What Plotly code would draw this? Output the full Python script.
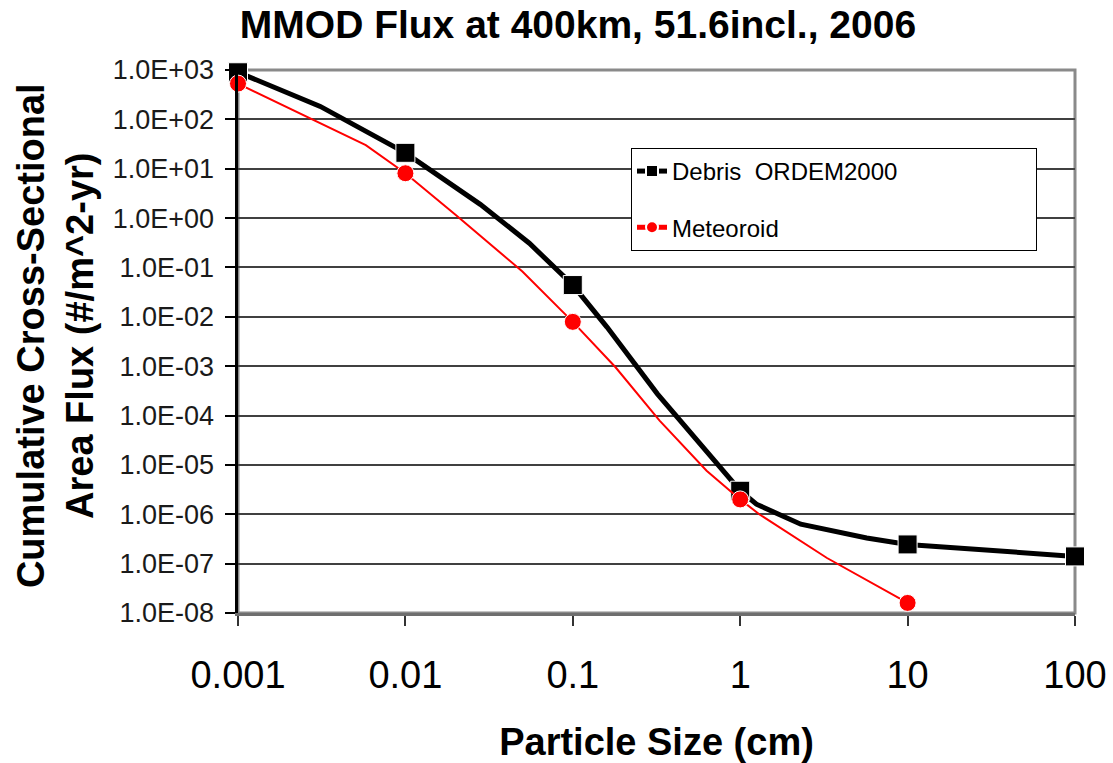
import numpy as np
import plotly.graph_objects as go

# ---- data ----
debris_size = [0.001, 0.0031, 0.01, 0.028, 0.055, 0.1, 0.16, 0.24, 0.32, 1, 1.25, 2.3, 5.7, 10, 18, 100]
debris_flux = [900, 183, 21, 1.9, 0.31, 0.044, 0.0062, 0.00095, 0.000275, 3.0e-6, 1.6e-6, 6.3e-7, 3.3e-7, 2.45e-7, 2.1e-7, 1.4e-7]

meteoroid_size = [0.001, 0.0058, 0.01, 0.02, 0.05, 0.1, 0.18, 0.33, 0.63, 1, 1.3, 3.3, 10]
meteoroid_flux = [530, 30, 8.1, 1.15, 0.083, 0.0079, 0.00095, 7.9e-5, 7.6e-6, 2.0e-6, 1.0e-6, 1.3e-7, 1.6e-8]

x_tick_vals = [0.001, 0.01, 0.1, 1, 10, 100]
x_tick_text = ["0.001", "0.01", "0.1", "1", "10", "100"]
y_tick_vals = [1e3, 1e2, 1e1, 1e0, 1e-1, 1e-2, 1e-3, 1e-4, 1e-5, 1e-6, 1e-7, 1e-8]
y_tick_text = ["1.0E+03", "1.0E+02", "1.0E+01", "1.0E+00", "1.0E-01", "1.0E-02",
               "1.0E-03", "1.0E-04", "1.0E-05", "1.0E-06", "1.0E-07", "1.0E-08"]

FONT = "Liberation Sans, Arial, sans-serif"
LEGEND_PAD = "\u00a0" * 20


def decade_sizes(xs, size):
    lx = np.log10(np.array(xs, dtype=float))
    return [size if abs(v - round(v)) < 1e-6 else 0 for v in lx]


fig = go.Figure()
fig.add_trace(go.Scatter(
    x=debris_size, y=debris_flux, name="Debris  ORDEM2000" + LEGEND_PAD,
    mode="lines+markers", legendgroup="d",
    line=dict(color="black", width=5),
    marker=dict(symbol="square", color="black", opacity=1,
                size=decade_sizes(debris_size, 19)),
    cliponaxis=False,
))
fig.add_trace(go.Scatter(
    x=meteoroid_size, y=meteoroid_flux, name="Meteoroid",
    mode="lines+markers", legendgroup="m",
    line=dict(color="#ff0000", width=2),
    marker=dict(symbol="circle", color="#ff0000", opacity=1,
                size=decade_sizes(meteoroid_size, 17)),
    cliponaxis=False,
))
# empty trace so the label-only overlay axis is instantiated
fig.add_trace(go.Scatter(x=[], y=[], yaxis="y2", showlegend=False, hoverinfo="skip"))

# border (top/right) of the plot area
fig.add_shape(type="rect", xref="x domain", yref="y domain", x0=0, x1=1, y0=0, y1=1,
              line=dict(color="#8a8a8a", width=3), layer="below")

# plot area: x 238..1075 px, paper (margins) starts at 214 px
PAPER_L = 214
PAPER_W = 1113 - PAPER_L - 38
dom0 = (238 - PAPER_L) / PAPER_W

fig.update_layout(
    width=1113, height=763,
    margin=dict(l=PAPER_L, r=38, t=70, b=150, autoexpand=False),
    paper_bgcolor="white", plot_bgcolor="white",
    font=dict(family=FONT, color="black"),
    title=dict(text="<b>MMOD Flux at 400km, 51.6incl., 2006</b>",
               x=0.5193, xanchor="center", xref="container",
               y=0.9685, yanchor="middle", yref="container",
               font=dict(size=39, family=FONT, color="black")),
    showlegend=True,
    legend=dict(x=(631 - PAPER_L) / PAPER_W, y=0.8564, xanchor="left", yanchor="top",
                bgcolor="white", bordercolor="black", borderwidth=1,
                font=dict(size=24, family=FONT, color="black"),
                traceorder="grouped", tracegroupgap=22, itemsizing="constant"),
    xaxis=dict(type="log", range=[-3, 2], automargin=False, domain=[dom0, 1],
               tickvals=x_tick_vals, ticktext=x_tick_text,
               tickfont=dict(size=38, family=FONT, color="black"),
               ticks="outside", ticklen=10, tickwidth=1.5, tickcolor="#333",
               ticklabelstandoff=16,
               showgrid=False, zeroline=False,
               showline=True, linecolor="#6e6e6e", linewidth=3,
               title=dict(text="<b>Particle Size (cm)</b>", standoff=35,
                          font=dict(size=38, family=FONT, color="black"))),
    yaxis=dict(type="log", range=[-8, 3], automargin=False,
               tickvals=y_tick_vals, showticklabels=False,
               ticks="outside", ticklen=10, tickwidth=1.5, tickcolor="black",
               showgrid=True, gridcolor="#404040", gridwidth=1.5,
               zeroline=False,
               showline=True, linecolor="black", linewidth=2.5),
    yaxis2=dict(type="log", range=[-8, 3], automargin=False,
                overlaying="y", anchor="free", position=0, side="left",
                tickvals=y_tick_vals, ticktext=y_tick_text,
                tickfont=dict(size=27, family=FONT, color="#1a1a1a"),
                ticks="", showgrid=False, zeroline=False, showline=False),
    annotations=[dict(
        text="<b>Cumulative Cross-Sectional<br>Area Flux (#/m^2-yr)</b>",
        xref="paper", yref="paper", x=(55 - PAPER_L) / PAPER_W, y=0.51,
        xanchor="center", yanchor="middle", textangle=-90, showarrow=False,
        font=dict(size=38, family=FONT, color="black"))],
)

fig.write_html("out.html", config={"displayModeBar": False},
               post_script="document.body.style.margin='0px';")
